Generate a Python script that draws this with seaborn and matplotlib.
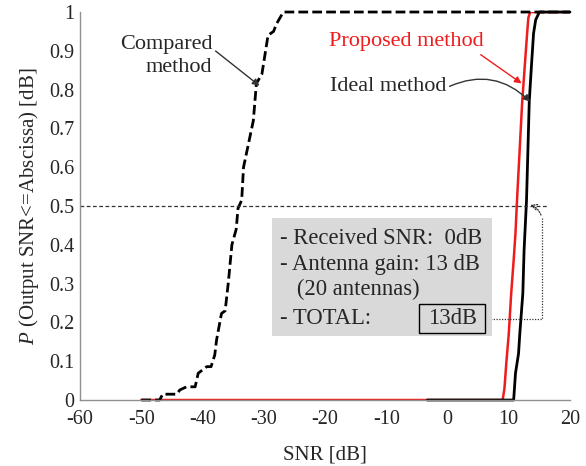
import numpy as np
import pandas as pd
import matplotlib
matplotlib.use("Agg")
import matplotlib.pyplot as plt
import seaborn as sns
from matplotlib.patches import Rectangle

# значения
compared_x = [-50, -47, -46.5, -44.2, -43.7, -42.6, -41.2, -40.7, -39.3, -38.6, -38.0, -37.7,
              -36.9, -36.3, -35.8, -35.2, -34.5, -34.2, -33.6, -33.3, -32.5, -31.7, -31.2,
              -30.3, -29.3, -28.4, -27.9, -26.8, 20]
compared_y = [0, 0, 0.015, 0.015, 0.026, 0.034, 0.034, 0.069, 0.086, 0.086, 0.116, 0.155,
              0.223, 0.23, 0.30, 0.40, 0.44, 0.494, 0.515, 0.60, 0.66, 0.72, 0.816,
              0.84, 0.94, 0.95, 0.97, 1.0, 1.0]

proposed_x = [-50, 9.0, 9.3, 9.6, 10.0, 10.4, 10.8, 11.1, 11.35, 12.2, 13.0, 13.2, 13.5, 20]
proposed_y = [0, 0, 0.03, 0.095, 0.17, 0.275, 0.36, 0.43, 0.515, 0.77, 0.945, 0.985, 1.0, 1.0]

ideal_x = [-3.3, 10.8, 11.1, 11.6, 11.8, 12.3, 12.5, 12.9, 13.35, 13.7, 14.05, 14.4, 15.0, 20]
ideal_y = [0, 0, 0.069, 0.12, 0.17, 0.275, 0.385, 0.515, 0.77, 0.86, 0.945, 0.98, 1.0, 1.0]

xticks = [-60, -50, -40, -30, -20, -10, 0, 10, 20]
xtick_labels = ["-60", "-50", "-40", "-30", "-20", "-10", "0", "10", "20"]
yticks = [0, 0.1, 0.2, 0.3, 0.4, 0.5, 0.6, 0.7, 0.8, 0.9, 1.0]
ytick_labels = ["0", "0.1", "0.2", "0.3", "0.4", "0.5", "0.6", "0.7", "0.8", "0.9", "1"]

box_lines = ["- Received SNR:  0dB", "- Antenna gain: 13 dB", "   (20 antennas)", "- TOTAL:"]

sns.set_style("white")
plt.rcParams['font.family'] = ['Liberation Serif', 'DejaVu Serif']
plt.rcParams['mathtext.fontset'] = 'custom'
plt.rcParams['mathtext.it'] = 'Liberation Serif:italic'
plt.rcParams['axes.unicode_minus'] = False

fig = plt.figure(figsize=(5.86, 4.66), dpi=100)
ax = fig.add_axes([0.1365, 0.1416, 0.8362, 0.8326])

# кривые
sns.lineplot(x=proposed_x, y=proposed_y, ax=ax, color="#ee1c1c", lw=1.8, sort=False, estimator=None)
sns.lineplot(x=ideal_x, y=ideal_y, ax=ax, color="black", lw=2.0, sort=False, estimator=None)
sns.lineplot(x=compared_x, y=compared_y, ax=ax, color="black", lw=2.0, sort=False,
             estimator=None, dashes=False)
ax.lines[-1].set_dashes((3.5, 1.5))
ax.lines[-1].set_clip_on(False)
ax.lines[1].set_clip_on(False)

# линия 0.5
ax.plot([-60, 16.2], [0.5, 0.5], color="#333333", lw=0.9, ls=(0, (3, 2)))

ax.set_xlim(-60, 20)
ax.set_ylim(0, 1)
ax.set_xticks(xticks)
ax.set_xticklabels(xtick_labels)
ax.set_yticks(yticks)
ax.set_yticklabels(ytick_labels)
ax.tick_params(direction="in", length=5, color="#909090", labelsize=14.5, pad=4)
ax.tick_params(axis="x", pad=7)
for s in ["top", "right"]:
    ax.spines[s].set_visible(False)
for s in ["left", "bottom"]:
    ax.spines[s].set_color("#909090")
    ax.spines[s].set_linewidth(1.0)

ax.set_xlabel("SNR [dB]", fontsize=15, labelpad=12)
ax.set_ylabel("$P$ (Output SNR<=Abscissa) [dB]", fontsize=15, labelpad=6)

# серый блок с текстом
ax.add_patch(Rectangle((-28.7, 0.165), 36.0, 0.303, facecolor="#d9d9d9", edgecolor="none", zorder=3))
for txt, yy in zip(box_lines, [0.416, 0.348, 0.284, 0.21]):
    ax.text(-27.3, yy, txt, fontsize=16.3, va="center", ha="left", zorder=4)
ax.add_patch(Rectangle((-4.6, 0.173), 10.8, 0.074, facecolor="#d9d9d9", edgecolor="black",
                       lw=1.0, zorder=4))
ax.text(0.8, 0.21, "13dB", fontsize=16.3, va="center", ha="center", zorder=5)

# пунктирная связь
ax.plot([6.2, 15.4, 15.4], [0.21, 0.21, 0.47], color="#333333", lw=0.9, ls=(0, (1, 1.2)))
ax.annotate("", xy=(13.1, 0.505), xytext=(15.4, 0.47),
            arrowprops=dict(arrowstyle="->", color="#333333", lw=0.9, ls=(0, (1, 1.2)),
                            connectionstyle="arc3,rad=0.3"))

# подписи
ax.annotate("Compared\nmethod", xy=(-30.7, 0.81), xytext=(-38.4, 0.887), fontsize=16,
            ha="right", va="center", multialignment="right", linespacing=1.25,
            arrowprops=dict(arrowstyle="-|>", color="#333333", lw=1.0, shrinkA=0, shrinkB=0,
                            mutation_scale=10, relpos=(1.0, 0.68)))
ax.annotate("Proposed method", xy=(12.1, 0.816), xytext=(-6.7, 0.923), fontsize=16,
            color="#ee1c1c", ha="center", va="center",
            arrowprops=dict(arrowstyle="-|>", color="#ee1c1c", lw=1.0, shrinkA=0, shrinkB=0,
                            mutation_scale=10, relpos=(0.95, 0.0)))
ax.annotate("Ideal method", xy=(13.5, 0.769), xytext=(-9.7, 0.807), fontsize=16,
            ha="center", va="center",
            arrowprops=dict(arrowstyle="-|>", color="#333333", lw=1.0, shrinkA=0, shrinkB=0,
                            mutation_scale=10, relpos=(1.0, 0.45),
                            connectionstyle="arc3,rad=-0.35"))

fig.savefig("out.png", dpi=100)
